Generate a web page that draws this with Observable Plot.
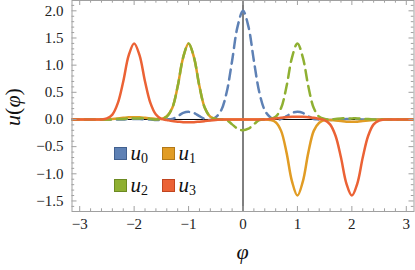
<!DOCTYPE html>
<html><head><meta charset="utf-8">
<script src="https://cdn.jsdelivr.net/npm/d3@7"></script>
<script src="https://cdn.jsdelivr.net/npm/@observablehq/plot@0.6"></script>
<style>
html,body{margin:0;padding:0;background:#fff;}
#wrap{position:relative;width:415px;height:270px;}
</style></head><body><div id="wrap"></div><script>
// ---- data ----
const phi = [-3.2,-3.1,-3.0,-2.9,-2.8,-2.7,-2.6,-2.5,-2.4,-2.3,-2.2,-2.1,-2.0,-1.9,-1.8,-1.7,-1.6,-1.5,-1.4,-1.3,-1.2,-1.1,-1.0,-0.9,-0.8,-0.7,-0.6,-0.5,-0.4,-0.3,-0.2,-0.1,0,
  0.1,0.2,0.3,0.4,0.5,0.6,0.7,0.8,0.9,1.0,1.1,1.2,1.3,1.4,1.5,1.6,1.7,1.8,1.9,2.0,2.1,2.2,2.3,2.4,2.5,2.6,2.7,2.8,2.9,3.0,3.1,3.2];
const u0 = [0,0,0,0,0,0,0,0,0,0,0,0.01,0.01,0.01,0,0,-0.01,-0.01,0,0.01,0.06,0.12,0.14,0.12,0.06,0.01,-0.01,0.04,0.17,0.50,1.08,1.71,2.00,
  1.71,1.08,0.50,0.17,0.04,-0.01,0.01,0.06,0.12,0.14,0.12,0.06,0.01,0,-0.01,-0.01,0,0,0.01,0.01,0.01,0,0,0,0,0,0,0,0,0,0,0];
const u1 = [0,0,0,0,0,0,0,0,0.01,0.02,0.03,0.04,0.04,0.04,0.03,0.02,0.01,0.01,0.06,0.21,0.61,1.14,1.40,1.14,0.61,0.21,0.05,0.01,0,0,0,0,0,
  0,0,0,0,-0.01,-0.05,-0.21,-0.61,-1.14,-1.40,-1.14,-0.61,-0.21,-0.06,-0.01,-0.01,-0.02,-0.03,-0.04,-0.04,-0.04,-0.03,-0.02,-0.01,0,0,0,0,0,0,0,0];
const u2 = [0,0,0,0,0,0,0,0,0,0.01,0.01,0.02,0.02,0.02,0.02,0.01,0,0.01,0.05,0.21,0.61,1.14,1.40,1.14,0.61,0.21,0.05,0.01,0,-0.01,-0.09,-0.17,-0.20,
  -0.17,-0.09,-0.01,0,0.01,0.05,0.21,0.61,1.14,1.40,1.14,0.61,0.21,0.05,0.01,0,0.01,0.02,0.02,0.02,0.02,0.01,0.01,0,0,0,0,0,0,0,0,0];
const u3 = [0,0,0,0,0,0,0,0.02,0.09,0.30,0.70,1.18,1.40,1.18,0.70,0.30,0.09,0.01,-0.01,-0.03,-0.04,-0.05,-0.05,-0.05,-0.04,-0.03,-0.02,-0.01,0,0,0,0,0,
  0,0,0,0,0.01,0.02,0.03,0.04,0.05,0.05,0.05,0.04,0.03,0.01,-0.01,-0.09,-0.30,-0.70,-1.18,-1.40,-1.18,-0.70,-0.30,-0.09,-0.02,0,0,0,0,0,0,0];
const seriesKeys = ["u0","u1","u2","u3"];
const seriesSub = ["0","1","2","3"];
const seriesColors = ["#5E81B5","#E19C24","#8FB032","#EB6235"];
const seriesBorders = ["#41608f","#b27817","#6c8a22","#c04520"];
const seriesDash = ["10,6", null, "10,6", null];
const xTicks = [-3,-2,-1,0,1,2,3];
const yTicks = [-1.5,-1.0,-0.5,0.0,0.5,1.0,1.5,2.0];
const xMinor = [-2.8,-2.6,-2.4,-2.2,-1.8,-1.6,-1.4,-1.2,-0.8,-0.6,-0.4,-0.2,0.2,0.4,0.6,0.8,1.2,1.4,1.6,1.8,2.2,2.4,2.6,2.8];
const yMinor = [-1.6,-1.4,-1.3,-1.2,-1.1,-0.9,-0.8,-0.7,-0.6,-0.4,-0.3,-0.2,-0.1,0.1,0.2,0.3,0.4,0.6,0.7,0.8,0.9,1.1,1.2,1.3,1.4,1.6,1.7,1.8,1.9,2.1];

const rows = phi.map((x, i) => ({x, u0: u0[i], u1: u1[i], u2: u2[i], u3: u3[i]}));

// ---- layout ----
const W = 415, H = 270, mL = 71.5, mR = 1.5, mT = 0, mB = 59;
const iW = W - mL - mR, iH = H - mT - mB;
const frameColor = "#a0a0a0";
const font = "Liberation Serif";

const lines = seriesKeys.map((k, i) => Plot.line(rows, {
  x: "x", y: k, stroke: seriesColors[i], strokeWidth: 2.5,
  strokeDasharray: seriesDash[i] || undefined, curve: "catmull-rom", clip: true
}));

const svg = Plot.plot({
  width: W, height: H,
  marginLeft: mL, marginRight: mR, marginTop: mT, marginBottom: mB,
  x: {domain: [-Math.PI, Math.PI]},
  y: {domain: [-1.694, 2.19]},
  style: {background: "#fff", color: "#222", overflow: "visible"},
  marks: [
    Plot.ruleX([0], {stroke: "#000", strokeWidth: 1}),
    Plot.ruleY([0], {stroke: "#000", strokeWidth: 1}),
    ...lines,
    Plot.frame({stroke: frameColor, strokeWidth: 1}),
    Plot.tickX(xTicks, {x: d => d, insetTop: iH - 5, stroke: frameColor}),
    Plot.tickX(xTicks, {x: d => d, insetBottom: iH - 5, stroke: frameColor}),
    Plot.tickX(xMinor, {x: d => d, insetTop: iH - 2.7, stroke: frameColor}),
    Plot.tickX(xMinor, {x: d => d, insetBottom: iH - 2.7, stroke: frameColor}),
    Plot.tickY(yTicks, {y: d => d, insetRight: iW - 5, stroke: frameColor}),
    Plot.tickY(yTicks, {y: d => d, insetLeft: iW - 5, stroke: frameColor}),
    Plot.tickY(yMinor, {y: d => d, insetRight: iW - 2.7, stroke: frameColor}),
    Plot.tickY(yMinor, {y: d => d, insetLeft: iW - 2.7, stroke: frameColor}),
    Plot.axisX(xTicks, {tickSize: 0, tickPadding: 7, tickFormat: d3.format("d"), label: null, fontSize: 15}),
    Plot.axisY(yTicks, {tickSize: 0, tickPadding: 8.5, tickFormat: d3.format(".1f"), label: null, fontSize: 15})
  ]
});

const s = d3.select(svg);
// serif for all Plot-generated text
s.attr("font-family", font).style("font-family", font);
s.selectAll("g, text").each(function() {
  const el = d3.select(this);
  if (el.attr("font-family") != null) el.attr("font-family", font);
  el.style("font-family", font).style("font-variant", "normal");
});

// axis labels
const yl = s.append("text").attr("transform", "translate(20,107) rotate(-90)")
  .attr("text-anchor", "middle").attr("font-family", font).attr("font-size", 22).attr("fill", "#111");
yl.append("tspan").attr("font-style", "italic").text("u");
yl.append("tspan").text("(");
yl.append("tspan").attr("font-style", "italic").text("φ");
yl.append("tspan").text(")");
s.append("text").attr("x", 242.5).attr("y", 259).attr("text-anchor", "middle")
  .attr("font-family", font).attr("font-size", 22).attr("font-style", "italic").attr("fill", "#111").text("φ");

// legend (2x2 inside the frame)
const legX = [114.5, 162.5], legY = [147.5, 179.5];
seriesKeys.forEach((k, i) => {
  const cx = legX[i % 2], cy = legY[Math.floor(i / 2)];
  const g = s.append("g");
  g.append("rect").attr("x", cx).attr("y", cy).attr("width", 12).attr("height", 12)
    .attr("fill", seriesColors[i]).attr("stroke", seriesBorders[i]).attr("stroke-width", 1);
  const t = g.append("text").attr("x", cx + 16).attr("y", cy + 12.5).attr("text-anchor", "start")
    .attr("font-family", font).attr("font-size", 21).attr("fill", "#111");
  t.append("tspan").attr("font-style", "italic").text("u");
  t.append("tspan").attr("font-size", 14).attr("dy", 3).text(seriesSub[i]);
});

document.getElementById("wrap").appendChild(svg);
</script></body></html>
